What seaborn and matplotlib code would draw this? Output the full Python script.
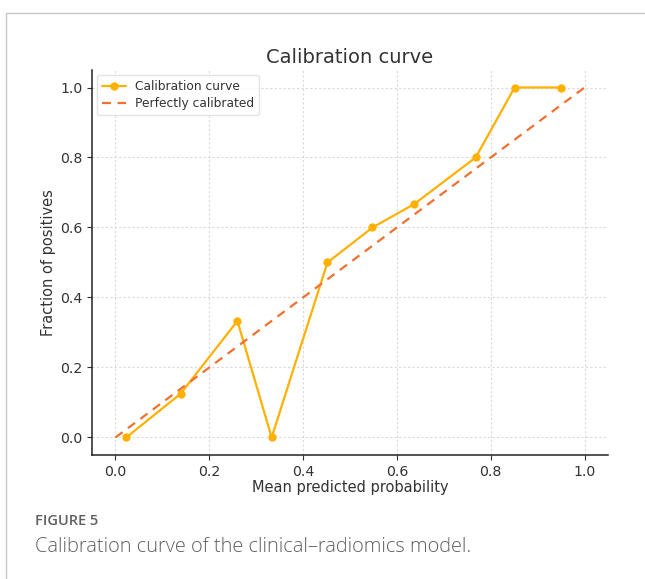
import matplotlib
matplotlib.use("Agg")
import matplotlib.pyplot as plt
from matplotlib.lines import Line2D
import seaborn as sns
import pandas as pd

# Calibration bins: mean predicted probability vs observed fraction of positives
mean_predicted = [0.023, 0.139, 0.260, 0.333, 0.452, 0.548, 0.637, 0.768, 0.851, 0.949]
fraction_positives = [0.0, 0.125, 0.333, 0.0, 0.5, 0.6, 0.667, 0.8, 1.0, 1.0]
diagonal = [0.0, 1.0]
x_ticks = [0.0, 0.2, 0.4, 0.6, 0.8, 1.0]
y_ticks = [0.0, 0.2, 0.4, 0.6, 0.8, 1.0]

curve_df = pd.DataFrame({"pred": mean_predicted, "frac": fraction_positives})
diag_df = pd.DataFrame({"x": diagonal, "y": diagonal})

sns.set_style("ticks")
plt.rcParams["font.family"] = ["DejaVu Sans"]

fig = plt.figure(figsize=(6.45, 5.79), dpi=100)
ax = fig.add_axes([0.1426, 0.2142, 0.80, 0.6649])

text_color = "#333333"

sns.lineplot(data=curve_df, x="pred", y="frac", ax=ax, color="#FFB000",
             marker="o", markersize=6, markeredgewidth=0, linewidth=1.6,
             label="Calibration curve")
sns.lineplot(data=diag_df, x="x", y="y", ax=ax, color="#F07030",
             linestyle=(0, (4, 3)), linewidth=1.6, label="Perfectly calibrated")

ax.set_xlim(-0.05, 1.05)
ax.set_ylim(-0.05, 1.05)
ax.set_xticks(x_ticks)
ax.set_yticks(y_ticks)
ax.set_xticklabels([f"{t:.1f}" for t in x_ticks])
ax.set_yticklabels([f"{t:.1f}" for t in y_ticks])
ax.grid(True, linestyle=(0, (2, 2)), color="#d9d9d9", linewidth=0.8)
ax.set_axisbelow(True)
sns.despine(ax=ax)
for s in ("left", "bottom"):
    ax.spines[s].set_color("#222222")
    ax.spines[s].set_linewidth(1.1)
ax.tick_params(axis="both", labelsize=10.2, colors=text_color, length=3.5, width=0.8)

ax.set_title("Calibration curve", fontsize=14, color=text_color, pad=5)
ax.set_xlabel("Mean predicted probability", fontsize=10.5, color=text_color, labelpad=1)
ax.set_ylabel("Fraction of positives", fontsize=10.5, color=text_color, labelpad=3)

leg = ax.legend(loc="upper left", fontsize=8.8, frameon=True, borderaxespad=0.4,
                handlelength=2.0, handletextpad=0.7, labelspacing=0.35)
leg.get_frame().set_edgecolor("#dddddd")
for t in leg.get_texts():
    t.set_color(text_color)

# Page frame lines
fig.add_artist(Line2D([6 / 645, 1.0], [1 - 13 / 579, 1 - 13 / 579],
                      transform=fig.transFigure, color="#c8c8c8", linewidth=1.0))
fig.add_artist(Line2D([6 / 645, 6 / 645], [0.0, 1 - 13 / 579],
                      transform=fig.transFigure, color="#c8c8c8", linewidth=1.0))

# Figure caption
fig.text(35 / 645, 1 - 521 / 579, "FIGURE 5", fontsize=10.5, color="#606060",
         family=["Open Sans", "DejaVu Sans"], fontweight="semibold", va="center")
fig.text(35 / 645, 1 - 547 / 579, "Calibration curve of the clinical\u2013radiomics model.",
         fontsize=14.4, color="#606060", family=["Open Sans", "DejaVu Sans"],
         fontweight="light", va="center")

fig.savefig("out.png", dpi=100)
